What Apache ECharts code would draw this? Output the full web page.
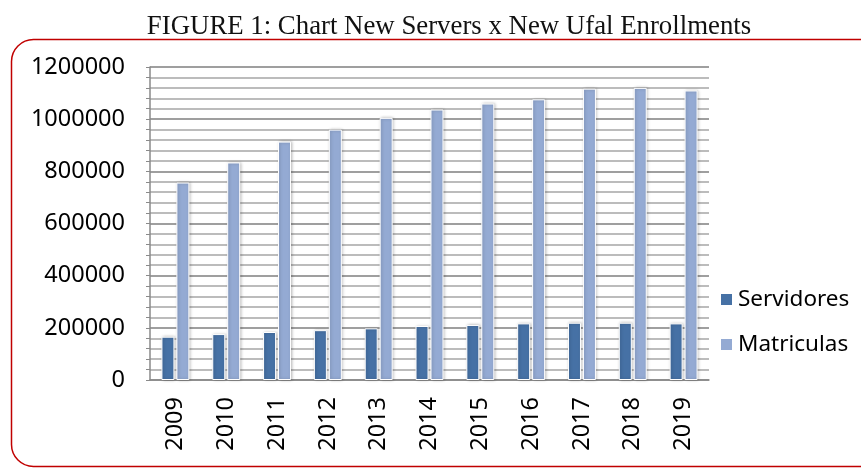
<!DOCTYPE html>
<html>
<head>
<meta charset="utf-8">
<script src="https://cdn.jsdelivr.net/npm/echarts@6/dist/echarts.min.js"></script>
<style>
html,body{margin:0;padding:0;background:#fff;}
#c{width:861px;height:468px;}
</style>
</head>
<body>
<div id="c"></div>
<script>
const years = ['2009','2010','2011','2012','2013','2014','2015','2016','2017','2018','2019'];
const servidores = [166000,176000,184000,191000,198000,207000,211000,217000,219500,219500,217000];
const matriculas = [757000,834000,914000,960000,1005000,1037000,1060000,1076000,1117000,1120000,1110000];
const titleText = 'FIGURE 1: Chart New Servers x New Ufal Enrollments';
const seriesNames = ['Servidores','Matriculas'];

const chart = echarts.init(document.getElementById('c'), null, {renderer:'canvas'});
const labelFont = '"Noto Sans", "Open Sans", sans-serif';
chart.setOption({
  animation:false,
  backgroundColor:'#fff',
  title:{
    text:titleText, left:444, textAlign:'center', top:8,
    textStyle:{fontFamily:'"Liberation Serif", "Times New Roman", serif', fontWeight:'normal', fontSize:26.8, color:'#111'}
  },
  graphic:[{
    type:'rect', left:9, top:37, silent:true,
    shape:{width:870, height:427, r:22},
    style:{fill:'none', stroke:'#c00000', lineWidth:1.5}
  }],
  legend:{
    orient:'vertical', left:714, top:283, itemGap:22, itemWidth:13, itemHeight:13,
    icon:'rect',
    textStyle:{fontFamily:labelFont, fontSize:22.5, color:'#000', padding:[0,0,0,0]},
    data:seriesNames
  },
  grid:{left:150, right:152, top:67, bottom:88},
  xAxis:{
    type:'category', data:years,
    axisLine:{lineStyle:{color:'#8a8a8a', width:1.5}},
    axisTick:{show:false},
    axisLabel:{rotate:90, margin:17, fontFamily:labelFont, fontSize:23.5, color:'#000'}
  },
  yAxis:{
    type:'value', min:0, max:1200000, interval:200000,
    axisLine:{show:true, lineStyle:{color:'#8a8a8a', width:1.5}},
    axisTick:{show:true, length:4, lineStyle:{color:'#8a8a8a'}},
    minorTick:{show:true, splitNumber:5, length:4, lineStyle:{color:'#8a8a8a'}},
    splitLine:{show:true, lineStyle:{color:'#7f7f7f', width:1.5}},
    minorSplitLine:{show:true, lineStyle:{color:'#a6a6a6', width:1.5}},
    axisLabel:{margin:25, fontFamily:labelFont, fontSize:23.5, color:'#000', formatter:function(v){return String(v);}}
  },
  series:[
    {name:seriesNames[0], type:'bar', data:servidores, barWidth:13, barGap:'15%',
     itemStyle:{color:'#4671A5', borderColor:'#ffffff', borderWidth:1, shadowColor:'rgba(0,0,0,0.25)', shadowBlur:3, shadowOffsetX:1}},
    {name:seriesNames[1], type:'bar', data:matriculas, barWidth:13,
     itemStyle:{color:'#94AAD3', borderColor:'#ffffff', borderWidth:1, shadowColor:'rgba(0,0,0,0.25)', shadowBlur:3, shadowOffsetX:1}}
  ]
});
</script>
</body>
</html>
